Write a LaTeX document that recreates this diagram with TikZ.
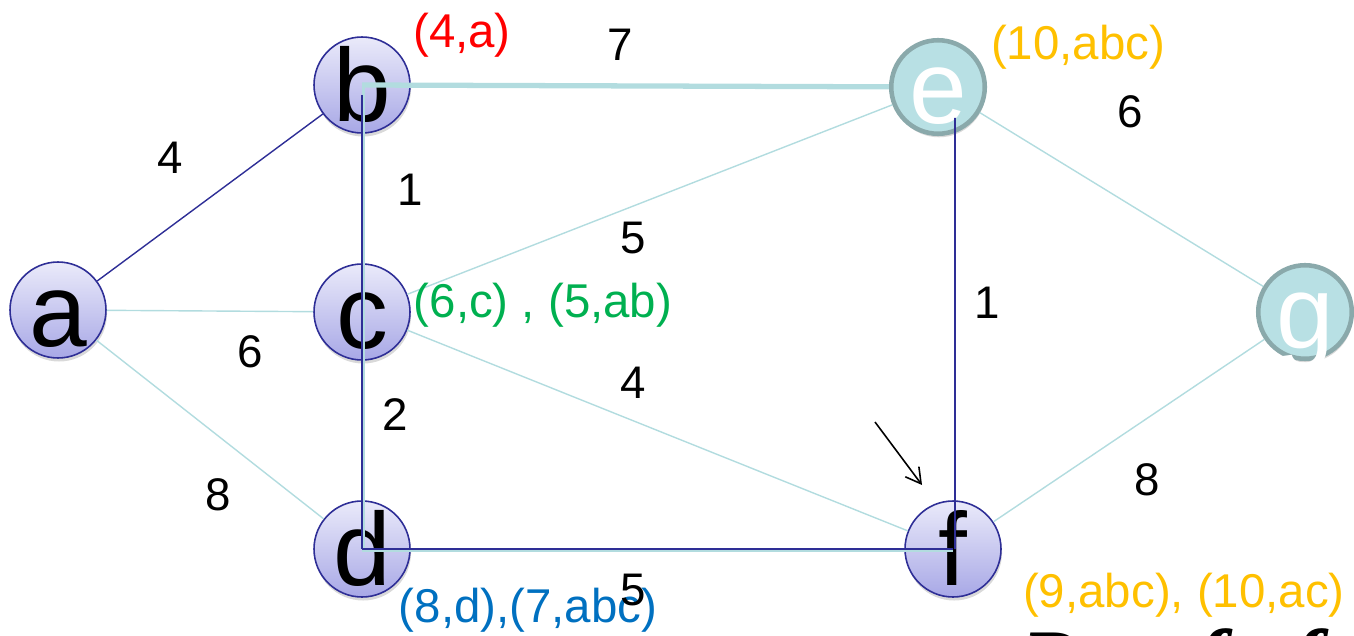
\documentclass[tikz,border=0pt]{standalone}
\usepackage{fontspec}
\setmainfont{Liberation Sans}
\newfontfamily\prooffont{Liberation Serif}
\usetikzlibrary{arrows.meta, shadows}

\definecolor{nodeblue}{HTML}{2E2E96}
\definecolor{lavtop}{HTML}{EAEAFA}
\definecolor{lavbot}{HTML}{A8A8E6}
\definecolor{tealfill}{HTML}{B8E0E4}
\definecolor{tealrim}{HTML}{8AA9AB}
\definecolor{tealline}{HTML}{B2DCDF}
\definecolor{redlab}{HTML}{FF0000}
\definecolor{orangelab}{HTML}{FFC000}
\definecolor{greenlab}{HTML}{00B050}
\definecolor{bluelab}{HTML}{0070C0}

\begin{document}
\begin{tikzpicture}[x=0.02cm, y=-0.02cm,
    every node/.style={font=\fontsize{26}{26}\selectfont},
    vertex/.style={circle, draw=nodeblue, line width=0.9pt, minimum size=1.92cm, inner sep=0pt,
        top color=lavtop, bottom color=lavbot, text height=42pt, text depth=0pt,
        font=\fontsize{59}{59}\selectfont,
        drop shadow={opacity=0.3, shadow xshift=0.6pt, shadow yshift=-2pt}},
    done_vertex/.style={circle, draw=tealrim, line width=2.6pt, minimum size=1.86cm, inner sep=0pt,
        fill=tealfill, text=white, text height=42pt, text depth=0pt,
        font=\fontsize{59}{59}\selectfont,
        drop shadow={opacity=0.3, shadow xshift=0.6pt, shadow yshift=-2pt}},
    thin_edge/.style={color=tealline, line width=0.8pt},
    tree_edge/.style={color=tealline, line width=3pt},
    tree_path/.style={color=nodeblue, line width=1pt},
    annot/.style={font=\fontsize{27}{27}\selectfont}
]
\useasboundingbox (0,0) rectangle (1354,635);
\clip (0,0) rectangle (1354,635);

% Nodos
\node[vertex] (a) at (58, 310) {a};
\node[vertex] (b) at (362, 85) {b};
\node[vertex] (c) at (362, 312) {c};
\node[vertex] (d) at (362, 549) {d};
\node[done_vertex] (e) at (938, 87) {e};
\node[vertex] (f) at (953, 549) {f};
\node[done_vertex] (g) at (1305, 312) {g};

% Aristas
\draw[color=nodeblue, line width=0.8pt] (a) -- (b);
\draw[thin_edge] (a) -- (c);
\draw[thin_edge] (a) -- (d);
\draw[thin_edge] (c) -- (e);
\draw[thin_edge] (c) -- (f);
\draw[thin_edge] (e) -- (g);
\draw[thin_edge] (f) -- (g);

% Arbol
\draw[tree_edge] (b.center) -- (e);
\draw[tree_edge, line width=1.8pt] ([xshift=1pt]b.center) -- ([xshift=1pt]d.center);
\draw[tree_path] ([yshift=-0.2cm]b.center) -- (d.center);
\draw[tree_edge, line width=1.8pt] ([yshift=-1pt]d.center) -- ([yshift=-1pt]f.center);
\draw[tree_path] (d.center) -- (f.center);
\draw[tree_path] ([xshift=0.34cm, yshift=-0.62cm]e.center) -- ([xshift=0.04cm]f.center);

% Pesos
\node (w_ab) at (170, 158) {4};
\node (w_be) at (620, 45) {7};
\node (w_eg) at (1130, 112) {6};
\node (w_bc) at (410, 190) {1};
\node (w_ce) at (633, 238) {5};
\node (w_ef) at (987, 303) {1};
\node (w_ac) at (250, 352) {6};
\node (w_cf) at (633, 383) {4};
\node (w_cd) at (395, 415) {2};
\node (w_ad) at (218, 495) {8};
\node (w_fg) at (1147, 480) {8};

% Etiquetas
\node[annot, text=redlab] (l_b) at (462, 35) {(4,a)};
\node[annot, text=orangelab] (l_e) at (1078, 47) {(10,abc)};
\node[annot, text=greenlab] (l_c) at (543, 305) {(6,c) , (5,ab)};
\node[annot, text=bluelab] (l_d) at (528, 610) {(8,d),(7,abc)};
\node[annot, text=orangelab] (l_f) at (1184, 595) {(9,abc), (10,ac)};
\node (w_df) at (633, 590) {5};

% Flecha
\coordinate (arr_s) at (875, 422);
\coordinate (arr_t) at (922, 485);
\draw[-{Straight Barb[length=3mm, width=3.4mm]}, line width=0.9pt] (arr_s) -- (arr_t);

\node[anchor=base west, font=\prooffont\fontsize{50}{50}\selectfont\bfseries\itshape] (proof) at (1015, 690) {Proof of};

\end{tikzpicture}
\end{document}
